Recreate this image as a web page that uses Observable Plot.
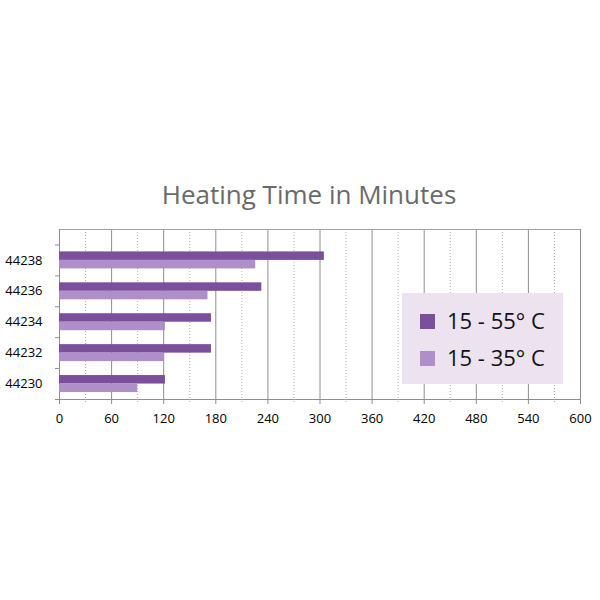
<!DOCTYPE html>
<html>
<head>
<meta charset="utf-8">
<script src="https://cdn.jsdelivr.net/npm/d3@7"></script>
<script src="https://cdn.jsdelivr.net/npm/@observablehq/plot@0.6"></script>
<style>
  html, body { margin: 0; padding: 0; background: #fff; }
  #wrap { position: relative; width: 600px; height: 600px; font-family: "Open Sans", sans-serif; }
  #title { position: absolute; left: 0; width: 618px; top: 177px; text-align: center; font-size: 26px; color: #6a6a6a; line-height: 34px; }
  #chart { position: absolute; left: 0; top: 200px; }
  #legend { position: absolute; left: 402px; top: 293px; width: 161px; height: 91px; background: #ece2f0; }
  .item { position: absolute; left: 18px; font-size: 22px; color: #111; line-height: 26px; white-space: nowrap; }
  .sw { display: inline-block; width: 15px; height: 15px; margin-right: 12px; vertical-align: 0px; }
</style>
</head>
<body>
<div id="wrap">
  <div id="title">Heating Time in Minutes</div>
  <div id="chart"></div>
  <div id="legend"></div>
</div>
<script>
const categories = ["44230", "44232", "44234", "44236", "44238"];
const series = ["15 - 55° C", "15 - 35° C"];
const hotValues = [122, 175, 175, 233, 305];   // 15 - 55° C
const warmValues = [90, 121, 122, 171, 226];   // 15 - 35° C
const xTicks = [0, 60, 120, 180, 240, 300, 360, 420, 480, 540, 600];
const colors = ["#7b4f9c", "#ae8fc7"];

const rows = [];
categories.forEach((c, i) => {
  rows.push({cat: c, series: series[0], value: hotValues[i], y1: i + 0.5, y2: i + 0.775});
  rows.push({cat: c, series: series[1], value: warmValues[i], y1: i + 0.225, y2: i + 0.5});
});

const minor = d3.range(30, 600, 60);
const boundaries = d3.range(0, categories.length + 1);
const centers = categories.map((c, i) => i + 0.5);

const chart = Plot.plot({
  width: 600,
  height: 240,
  marginTop: 29,
  marginBottom: 41,
  marginLeft: 59,
  marginRight: 20,
  style: {fontFamily: "Open Sans, sans-serif", fontSize: "13px", color: "#000", background: "transparent"},
  x: {domain: [0, 600]},
  y: {domain: [0, categories.length + 0.5]},
  color: {domain: series, range: colors},
  marks: [
    Plot.ruleX(minor, {stroke: "#b0b0b0", strokeDasharray: "1,2"}),
    Plot.ruleX(xTicks.filter(d => d > 0), {stroke: "#8e8e8e"}),
    Plot.ruleY([categories.length + 0.5], {stroke: "#a0a0a0"}),
    Plot.ruleY([0], {stroke: "#8e8e8e"}),
    Plot.ruleX([0], {stroke: "#8e8e8e"}),
    Plot.rect(rows, {x1: d => 0, x2: "value", y1: "y1", y2: "y2", fill: "series"}),
    Plot.axisX({ticks: xTicks, tickSize: 5, tickPadding: 9, tickFormat: d => String(d), stroke: "#8e8e8e", label: null, fontSize: 13}),
    Plot.axisX({ticks: minor, tickSize: 4, tickFormat: () => "", stroke: "#b0b0b0", strokeDasharray: "1,1", label: null}),
    Plot.axisY({ticks: boundaries, tickSize: 4, tickFormat: () => "", stroke: "#8e8e8e", label: null}),
    Plot.axisY({ticks: centers, tickSize: 0, tickPadding: 17, tickFormat: d => categories[Math.floor(d)], label: null, fontSize: 13})
  ]
});
document.getElementById("chart").appendChild(chart);

const legend = document.getElementById("legend");
series.forEach((s, i) => {
  const item = document.createElement("div");
  item.className = "item";
  item.style.top = (14 + i * 37) + "px";
  const sw = document.createElement("span");
  sw.className = "sw";
  sw.style.background = colors[i];
  item.appendChild(sw);
  item.appendChild(document.createTextNode(s));
  legend.appendChild(item);
});
</script>
</body>
</html>
